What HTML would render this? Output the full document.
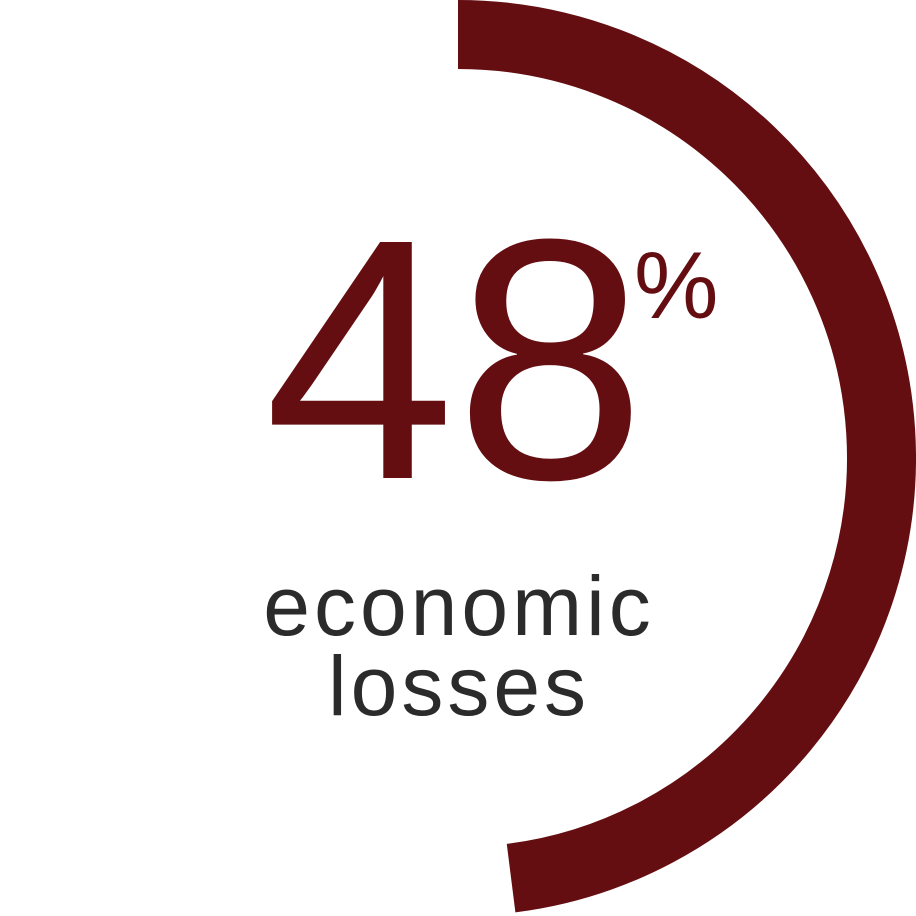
<!DOCTYPE html>
<html><head><meta charset="utf-8"><style>
html,body{margin:0;padding:0;background:#fff;width:916px;height:916px;overflow:hidden}
</style></head><body>
<svg width="916" height="916" viewBox="0 0 916 916">
<path id="arc" fill="none" stroke="#650e12" stroke-width="69"/>
<text id="val" x="455" y="478" text-anchor="middle" font-family="'Liberation Sans', sans-serif" font-size="343" fill="#650e12">48</text>
<text x="634" y="318" font-family="'Liberation Sans', sans-serif" font-size="95" fill="#650e12">%</text>
<text x="459" y="635" text-anchor="middle" font-family="'Liberation Sans', sans-serif" font-size="84" letter-spacing="4" fill="#2b2b2b">economic</text>
<text x="459" y="715" text-anchor="middle" font-family="'Liberation Sans', sans-serif" font-size="84" letter-spacing="4" fill="#2b2b2b">losses</text>
</svg>
<script>
const percentValues = [48];
const cx = 458, cy = 458, r = 423.5;
const p = percentValues[0] / 100;
const a = p * 2 * Math.PI;
const x1 = cx, y1 = cy - r;
const x2 = cx + r * Math.sin(a), y2 = cy - r * Math.cos(a);
const large = p > 0.5 ? 1 : 0;
document.getElementById('arc').setAttribute('d', `M${x1},${y1} A${r},${r} 0 ${large} 1 ${x2},${y2}`);
document.getElementById('val').textContent = percentValues[0];
</script>
</body></html>
